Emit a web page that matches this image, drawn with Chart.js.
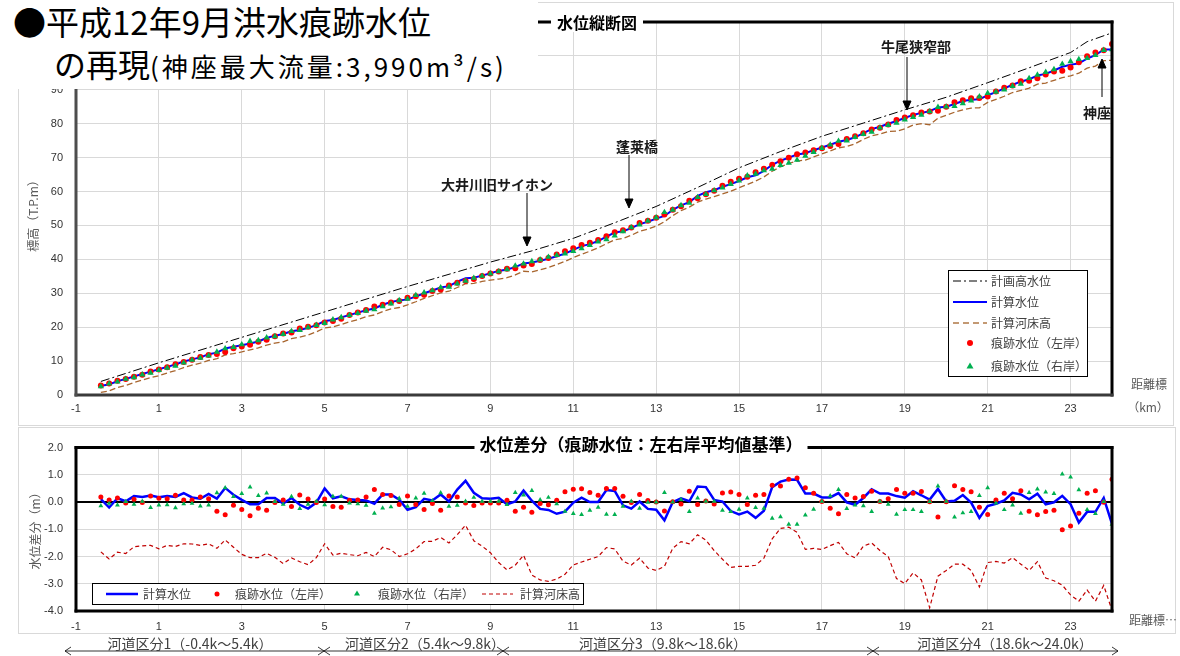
<!DOCTYPE html>
<html lang="ja"><head><meta charset="utf-8">
<title>平成12年9月洪水痕跡水位の再現</title>
<script src="https://cdn.jsdelivr.net/npm/chart.js@4.4.1/dist/chart.umd.min.js"></script>
<style>
html,body{margin:0;padding:0;background:#fff}
body{position:relative;width:1180px;height:656px;overflow:hidden;font-family:"Noto Sans CJK JP","Noto Sans",sans-serif;color:#000}
.frame{position:absolute;border:1px solid #d9d9d9;box-sizing:border-box}
canvas{position:absolute}
.tx{position:absolute;white-space:nowrap;line-height:1}
.c{transform:translate(-50%,-50%)}
.ann{font-weight:bold;font-size:14px;color:#1a1a1a}
.lg{font-size:12px;color:#404040;transform:translateY(-50%)}
.ax{font-size:12px;color:#595959}
.sec{font-size:14px;color:#404040}
svg{position:absolute;left:0;top:0}
</style></head><body>
<div class="frame" style="left:18px;top:2px;width:1156px;height:424px"></div>
<div class="frame" style="left:18px;top:427px;width:1158px;height:207px"></div>
<canvas id="cUp" width="1180" height="428" style="left:0;top:0"></canvas>
<canvas id="cLo" width="1180" height="228" style="left:0;top:428px"></canvas>
<div style="position:absolute;left:0;top:0;width:538px;height:89px;background:#fff"></div>
<svg width="1180" height="656">
  <g stroke="#000" stroke-width="1" fill="#000">
    <line x1="527" y1="193" x2="527" y2="238"/><polygon points="523,237 531,237 527,246"/>
    <line x1="629" y1="155" x2="629" y2="200"/><polygon points="625,199 633,199 629,208"/>
    <line x1="907" y1="57" x2="907" y2="102"/><polygon points="903,101 911,101 907,110"/>
    <line x1="1102" y1="97" x2="1102" y2="67"/><polygon points="1098,68 1106,68 1102,59"/>
  </g>
  <rect x="948.5" y="270.5" width="139" height="106" fill="#fff" stroke="#000" stroke-width="1"/>
  <line x1="953" y1="281" x2="987" y2="281" stroke="#000" stroke-width="1" stroke-dasharray="8,3,2,3"/>
  <line x1="953" y1="302" x2="987" y2="302" stroke="#0000ff" stroke-width="2"/>
  <line x1="953" y1="323" x2="987" y2="323" stroke="#b07845" stroke-width="1.5" stroke-dasharray="6,4"/>
  <circle cx="970" cy="343" r="3" fill="#ff0000"/>
  <polygon points="970,362.5 973.5,368.5 966.5,368.5" fill="#00b050"/>
  <rect x="92.5" y="583.5" width="491" height="21" fill="#fff" stroke="#000" stroke-width="1"/>
  <line x1="106" y1="594" x2="138" y2="594" stroke="#0000ff" stroke-width="2.5"/>
  <circle cx="217" cy="594" r="2.5" fill="#ff0000"/>
  <polygon points="357,590.5 360,595.5 354,595.5" fill="#00b050"/>
  <line x1="482" y1="594" x2="513" y2="594" stroke="#c00000" stroke-width="1.2" stroke-dasharray="4,3"/>
  <g stroke="#000" stroke-width="0.8" fill="none">
    <line x1="65" y1="651" x2="1118" y2="651"/>
    <path d="M71,647 L65,651 L71,655"/>
    <path d="M318,647 L324,651 L318,655 M330,647 L324,651 L330,655"/>
    <path d="M497,647 L503,651 L497,655 M509,647 L503,651 L509,655"/>
    <path d="M867,647 L873,651 L867,655 M879,647 L873,651 L879,655"/>
    <path d="M1112,647 L1118,651 L1112,655"/>
  </g>
</svg>
<div class="tx" style="left:13px;top:5px;font-size:33px">●平成12年9月洪水痕跡水位</div>
<div class="tx" style="left:54px;top:47px"><span style="font-size:32px">の再現</span><span style="font-size:26px;letter-spacing:3px">(神座最大流量:3,990m³/s)</span></div>
<div class="tx c" style="left:597px;top:22px;background:#fff;padding:2px 6px;font-weight:bold;font-size:16px">水位縦断図</div>
<div class="tx c" style="left:641px;top:443px;background:#fff;padding:2px 5px;font-weight:bold;font-size:17px">水位差分（痕跡水位：左右岸平均値基準）</div>
<div class="tx c ann" style="left:497px;top:184px">大井川旧サイホン</div>
<div class="tx c ann" style="left:637px;top:146px">蓬莱橋</div>
<div class="tx c ann" style="left:916px;top:46px">牛尾狭窄部</div>
<div class="tx c ann" style="left:1097px;top:112px">神座</div>
<div class="tx lg" style="left:991px;top:281px">計画高水位</div>
<div class="tx lg" style="left:991px;top:302px">計算水位</div>
<div class="tx lg" style="left:991px;top:323px">計算河床高</div>
<div class="tx lg" style="left:991px;top:343px">痕跡水位（左岸）</div>
<div class="tx lg" style="left:991px;top:366px">痕跡水位（右岸）</div>
<div class="tx lg" style="left:143px;top:594px">計算水位</div>
<div class="tx lg" style="left:235px;top:594px">痕跡水位（左岸）</div>
<div class="tx lg" style="left:378px;top:594px">痕跡水位（右岸）</div>
<div class="tx lg" style="left:520px;top:594px">計算河床高</div>
<div class="tx c ax" style="left:33px;top:213px;transform:translate(-50%,-50%) rotate(-90deg)">標高（T.P.m）</div>
<div class="tx c ax" style="left:35px;top:528px;transform:translate(-50%,-50%) rotate(-90deg)">水位差分（m）</div>
<div class="tx c ax" style="left:1149px;top:384px">距離標</div>
<div class="tx c ax" style="left:1148px;top:407px">（km）</div>
<div class="tx ax" style="left:1129px;top:614px">距離標…</div>
<div class="tx c sec" style="left:190px;top:643px">河道区分1（-0.4k～5.4k）</div>
<div class="tx c sec" style="left:425px;top:643px">河道区分2（5.4k～9.8k）</div>
<div class="tx c sec" style="left:663px;top:643px">河道区分3（9.8k～18.6k）</div>
<div class="tx c sec" style="left:1005px;top:643px">河道区分4（18.6k～24.0k）</div>
<script>
// ===== data =====
// distance marks (km)
const km = [-0.4,-0.2,0.0,0.2,0.4,0.6,0.8,1.0,1.2,1.4,1.6,1.8,2.0,2.2,2.4,2.6,2.8,3.0,3.2,3.4,3.6,3.8,4.0,4.2,4.4,4.6,4.8,5.0,5.2,5.4,5.6,5.8,6.0,6.2,6.4,6.6,6.8,7.0,7.2,7.4,7.6,7.8,8.0,8.2,8.4,8.6,8.8,9.0,9.2,9.4,9.6,9.8,10.0,10.2,10.4,10.6,10.8,11.0,11.2,11.4,11.6,11.8,12.0,12.2,12.4,12.6,12.8,13.0,13.2,13.4,13.6,13.8,14.0,14.2,14.4,14.6,14.8,15.0,15.2,15.4,15.6,15.8,16.0,16.2,16.4,16.6,16.8,17.0,17.2,17.4,17.6,17.8,18.0,18.2,18.4,18.6,18.8,19.0,19.2,19.4,19.6,19.8,20.0,20.2,20.4,20.6,20.8,21.0,21.2,21.4,21.6,21.8,22.0,22.2,22.4,22.6,22.8,23.0,23.2,23.4,23.6,23.8,24.0];

// upper chart: elevations (T.P.m)
const calcLevel = [2.7,3.1,4.1,4.7,5.5,6.2,6.9,7.6,8.3,9.0,
 9.9,10.5,11.1,12.0,12.5,13.7,14.2,14.7,15.2,15.8,
 16.8,17.5,18.0,18.8,19.2,19.8,20.6,21.8,22.1,22.9,
 23.6,24.3,25.0,25.5,26.6,27.4,27.9,28.2,29.0,30.0,
 30.8,31.7,32.1,33.4,34.4,34.6,35.2,35.9,36.6,37.0,
 37.7,38.8,39.1,39.6,40.2,40.9,41.7,42.8,43.9,44.5,
 45.4,46.7,47.9,48.3,49.2,50.4,51.1,52.0,52.8,54.6,
 55.9,56.9,58.7,59.8,60.4,61.4,62.2,63.1,64.2,64.8,
 66.1,67.9,69.1,70.0,70.9,71.3,72.2,73.0,73.8,74.7,
 75.2,76.0,77.2,78.4,79.1,80.0,80.8,81.7,82.6,83.2,
 83.7,84.8,85.0,85.8,86.7,87.1,87.2,88.4,89.3,90.4,
 91.5,92.4,93.1,94.2,94.7,95.7,96.8,97.4,97.8,99.2,
 100.2,101.9,101.9];
const traceLeftLevel = [2.8,3.4,4.2,4.7,5.4,6.0,6.9,7.5,8.2,9.1,
 9.7,10.4,11.2,11.8,12.1,12.7,13.8,14.3,14.8,15.7,
 16.3,17.3,18.1,18.4,19.6,20.1,20.6,21.4,21.8,22.5,
 23.6,24.3,25.1,26.1,26.6,27.3,27.7,28.7,29.1,29.6,
 30.7,31.1,32.3,33.1,33.6,34.2,35.1,35.8,36.4,37.2,
 37.4,38.2,38.6,39.8,40.4,41.4,42.4,43.3,44.2,44.9,
 45.7,46.8,48.0,48.6,49.4,50.7,51.4,52.3,53.2,54.6,
 55.7,57.3,58.0,59.2,60.2,61.7,62.9,63.8,64.4,65.7,
 66.7,67.9,68.9,70.0,71.0,71.5,72.2,72.8,73.4,74.0,
 75.5,76.3,77.2,78.3,78.8,79.8,81.1,81.8,82.5,83.3,
 83.6,83.8,85.0,86.3,86.9,87.5,87.6,88.0,89.5,90.6,
 91.3,92.5,92.7,93.4,94.5,95.4,95.6,96.6,98.1,99.9,
 101.0,101.7,103.5];
const traceRightLevel = [2.5,3.3,3.9,4.7,5.2,6.0,6.5,7.3,8.0,8.6,
 9.5,10.3,10.9,11.6,12.7,13.7,14.1,14.9,15.9,16.1,
 16.9,17.3,17.9,18.8,19.1,19.9,20.6,21.2,22.2,22.9,
 23.5,24.1,24.8,25.2,26.1,26.9,27.9,28.3,29.4,30.2,
 30.8,31.7,31.9,32.8,33.6,34.5,35.1,35.8,36.4,37.0,
 38.1,38.7,39.4,39.9,40.7,41.2,41.7,42.4,43.2,44.2,
 45.2,45.9,47.0,48.2,49.4,50.2,51.3,52.3,53.9,54.6,
 55.9,56.6,58.3,59.2,60.3,61.1,62.2,63.2,64.7,65.2,
 66.2,66.7,67.8,68.4,69.3,70.5,71.6,72.8,73.8,74.9,
 75.0,76.0,76.9,77.6,78.8,79.6,80.2,81.2,81.9,82.6,
 83.6,84.9,85.0,85.2,86.0,86.8,88.0,89.0,89.4,90.0,
 91.1,91.7,93.4,94.4,95.2,96.0,97.6,98.4,99.0,99.3,
 100.2,101.7,101.9];
const bedLevel = [0.8,1.2,2.2,2.8,3.7,4.4,5.1,5.7,6.5,7.2,
 8.1,8.8,9.4,10.2,10.7,11.8,12.2,12.7,13.3,13.9,
 14.7,15.3,15.7,16.6,17.1,17.7,18.6,19.8,20.1,20.8,
 21.6,22.2,23.1,23.6,24.6,25.4,25.8,26.6,27.5,28.5,
 29.3,30.1,30.6,31.7,32.8,32.9,33.5,33.9,34.2,34.6,
 35.4,36.5,36.3,36.9,37.6,38.5,39.4,40.5,41.5,42.4,
 43.4,44.6,45.8,46.2,47.1,48.3,48.9,49.8,51.1,52.9,
 54.4,55.4,56.9,57.8,58.5,59.3,60.1,61.1,62.1,63.1,
 64.3,66.0,67.3,68.3,69.0,69.3,70.2,71.1,72.0,72.9,
 73.3,74.1,75.4,76.4,77.0,77.7,77.8,78.5,79.6,80.0,
 79.7,81.6,82.5,83.4,84.1,84.6,84.7,86.3,87.2,88.1,
 89.2,89.8,90.5,91.7,92.0,92.8,93.6,94.1,94.9,96.4,
 97.0,98.6,98.7];
const hwlKm = [-0.4,1,3,5,7,9,10,11,12,13,14,15,16,17,18,19,20,21,22,23,23.4,24];
const hwlLevel = [4.0,9.5,17.0,24.5,32.0,39.2,42.5,46.2,50.8,55.6,61.2,67.0,71.8,76.3,80.2,84.1,87.8,92.1,96.5,101.0,104.2,106.8];

// lower chart: differences from the left/right trace average (m)
const diffCalc = [0.11,-0.20,0.14,0.03,0.22,0.19,0.24,0.18,0.22,0.19,
 0.33,0.17,0.12,0.30,0.13,0.52,0.27,0.08,-0.08,-0.08,
 0.15,0.15,-0.05,0.15,-0.10,-0.24,-0.02,0.50,0.14,0.21,
 0.10,0.08,0.06,-0.06,0.28,0.28,0.09,-0.28,-0.19,0.12,
 0.06,0.28,0.02,0.46,0.78,0.34,0.14,0.12,0.16,-0.08,
 0.02,0.42,0.05,-0.25,-0.29,-0.43,-0.35,-0.02,0.16,0.00,
 0.00,0.44,0.41,-0.12,-0.24,0.02,-0.25,-0.28,-0.67,0.00,
 0.14,0.03,0.57,0.55,0.08,0.02,-0.33,-0.45,-0.35,-0.58,
 -0.32,0.55,0.75,0.83,0.82,0.31,0.31,0.17,0.17,0.33,
 -0.01,-0.10,0.15,0.47,0.31,0.31,0.22,0.16,0.40,0.25,
 0.09,0.48,0.02,0.05,0.26,-0.02,-0.58,-0.15,-0.06,0.06,
 0.34,0.28,0.10,0.31,-0.08,-0.01,0.23,-0.08,-0.75,-0.36,
 -0.36,0.15,-0.80];
const diffLeft = [0.19,0.08,0.15,-0.03,0.10,-0.02,0.22,0.14,0.12,0.25,
 0.08,0.08,0.19,0.12,-0.34,-0.47,-0.12,-0.27,-0.50,-0.23,
 -0.30,-0.02,0.08,-0.16,0.26,0.11,-0.02,0.11,-0.16,-0.19,
 0.07,0.08,0.19,0.46,0.28,0.24,-0.09,0.22,-0.09,-0.27,
 -0.05,-0.30,0.22,0.19,-0.03,-0.13,-0.03,-0.03,-0.03,0.07,
 -0.34,-0.19,-0.37,-0.05,-0.10,0.07,0.38,0.47,0.49,0.35,
 0.25,0.50,0.50,0.21,-0.02,0.28,0.06,0.00,-0.33,0.01,
 -0.07,0.40,-0.09,0.04,-0.07,0.33,0.37,0.28,-0.09,0.25,
 0.28,0.62,0.59,0.84,0.88,0.53,0.32,0.02,-0.23,-0.43,
 0.28,0.15,0.20,0.40,0.02,0.12,0.46,0.32,0.32,0.39,
 0.01,-0.55,0.01,0.60,0.46,0.38,-0.19,-0.46,0.08,0.32,
 0.12,0.42,-0.34,-0.47,-0.35,-0.30,-1.02,-0.88,-0.41,0.32,
 0.42,-0.01,0.84];
const diffRight = [-0.14,-0.05,-0.11,0.02,-0.08,0.03,-0.20,-0.11,-0.10,-0.21,
 -0.07,-0.05,-0.15,-0.11,0.34,0.52,0.20,0.31,0.55,0.24,
 0.33,0.02,-0.08,0.20,-0.24,-0.08,0.03,-0.10,0.21,0.21,
 -0.04,-0.07,-0.12,-0.41,-0.22,-0.18,0.14,-0.16,0.15,0.32,
 0.05,0.34,-0.16,-0.12,0.03,0.17,0.03,0.03,0.03,-0.09,
 0.35,0.26,0.42,0.08,0.17,-0.07,-0.34,-0.42,-0.46,-0.30,
 -0.19,-0.45,-0.46,-0.16,0.03,-0.23,-0.01,0.00,0.35,0.00,
 0.09,-0.35,0.15,0.03,0.03,-0.30,-0.35,-0.27,0.15,-0.20,
 -0.23,-0.60,-0.54,-0.82,-0.82,-0.48,-0.27,0.03,0.23,0.46,
 -0.24,-0.11,-0.14,-0.35,0.03,-0.08,-0.45,-0.28,-0.28,-0.35,
 0.02,0.59,0.03,-0.55,-0.40,-0.35,0.24,0.52,-0.04,-0.28,
 -0.11,-0.41,0.35,0.48,0.37,0.31,1.03,0.92,0.45,-0.28,
 -0.42,0.02,-0.82];
const diffBed = [-1.83,-2.09,-1.84,-1.89,-1.64,-1.61,-1.59,-1.72,-1.59,-1.63,
 -1.53,-1.54,-1.59,-1.53,-1.70,-1.39,-1.66,-1.92,-2.04,-2.04,
 -1.88,-2.03,-2.26,-2.05,-2.19,-2.30,-2.04,-1.53,-1.95,-1.88,
 -1.93,-1.97,-1.85,-2.00,-1.66,-1.75,-2.00,-1.90,-1.72,-1.45,
 -1.44,-1.30,-1.50,-1.20,-0.85,-1.42,-1.62,-1.86,-2.22,-2.49,
 -2.32,-1.95,-2.68,-2.86,-2.91,-2.83,-2.65,-2.31,-2.20,-2.10,
 -2.00,-1.67,-1.72,-2.17,-2.31,-2.06,-2.42,-2.51,-2.36,-1.70,
 -1.45,-1.53,-1.20,-1.40,-1.78,-2.10,-2.40,-2.36,-2.36,-2.32,
 -2.06,-1.35,-0.97,-0.92,-1.11,-1.74,-1.70,-1.74,-1.60,-1.48,
 -1.90,-2.05,-1.62,-1.50,-1.78,-2.00,-2.81,-2.99,-2.60,-2.86,
 -3.88,-2.72,-2.51,-2.28,-2.28,-2.51,-3.12,-2.22,-2.18,-2.24,
 -2.04,-2.28,-2.51,-2.19,-2.79,-2.89,-3.05,-3.41,-3.64,-3.23,
 -3.64,-3.06,-3.98];

// tick labels
const xTickValues = [-1,1,3,5,7,9,11,13,15,17,19,21,23];
const yTicksUpper = [0,10,20,30,40,50,60,70,80,90,100,110];
const yTicksLower = [-4,-3,-2,-1,0,1,2];

// ===== chart building =====
const pts = (xs, ys) => xs.map((x, i) => ({x: x, y: ys[i]}));

const framePlugin = {
  id: 'frame',
  afterDatasetsDraw(chart, args, o) {
    const a = chart.chartArea, ctx = chart.ctx;
    ctx.save();
    ctx.lineWidth = 3; ctx.lineCap = 'square';
    const seg = (c, x1, y1, x2, y2) => { ctx.strokeStyle = c; ctx.beginPath(); ctx.moveTo(x1, y1); ctx.lineTo(x2, y2); ctx.stroke(); };
    seg(o.top, a.left, a.top, a.right, a.top);
    seg(o.right, a.right, a.top, a.right, a.bottom);
    seg(o.bottom, a.left, a.bottom, a.right, a.bottom);
    seg(o.left, a.left, a.top, a.left, a.bottom);
    ctx.restore();
  }
};
const tickFont = {family: '"Liberation Sans","Noto Sans",sans-serif', size: 11};
function xScale(h, pad) {
  return {type: 'linear', min: -1, max: 24,
    afterFit: s => { s.height = h; },
    afterBuildTicks: s => { s.ticks = xTickValues.map(v => ({value: v})); },
    grid: {color: '#d9d9d9', lineWidth: 1, drawTicks: false},
    border: {display: false},
    ticks: {padding: pad, font: tickFont, color: '#333', maxRotation: 0, autoSkip: false}};
}
const common = {responsive: false, animation: false, events: [],
  plugins: {legend: {display: false}, tooltip: {enabled: false}}};

new Chart(document.getElementById('cUp'), {
  type: 'line',
  data: {datasets: [
    {label: '痕跡水位（右岸）', data: pts(km, traceRightLevel), showLine: false, pointStyle: 'triangle', pointRadius: 3.6, pointBackgroundColor: '#00b050', pointBorderWidth: 0, order: 0},
    {label: '痕跡水位（左岸）', data: pts(km, traceLeftLevel), showLine: false, pointStyle: 'circle', pointRadius: 3, pointBackgroundColor: '#ff0000', pointBorderWidth: 0, order: 1},
    {label: '計算水位', data: pts(km, calcLevel), borderColor: '#0000ff', borderWidth: 2, pointRadius: 0, tension: 0, order: 2},
    {label: '計画高水位', data: pts(hwlKm, hwlLevel), borderColor: '#000', borderWidth: 1, borderDash: [9,3,2,3], pointRadius: 0, order: 3},
    {label: '計算河床高', data: pts(km, bedLevel), borderColor: '#a8652e', borderWidth: 1.3, borderDash: [6,3], pointRadius: 0, order: 4}
  ]},
  options: Object.assign({}, common, {
    layout: {padding: {left: 0, top: 22, right: 68, bottom: 0}},
    plugins: Object.assign({}, common.plugins, {frame: {top: '#000', right: '#000', bottom: '#3a3a3a', left: '#4d4d4d'}}),
    scales: {
      x: xScale(33, 7),
      y: {min: 0, max: 110,
        afterFit: s => { s.width = 76; },
        afterBuildTicks: s => { s.ticks = yTicksUpper.map(v => ({value: v})); },
        grid: {color: '#d9d9d9', lineWidth: 1, drawTicks: false}, border: {display: false},
        ticks: {padding: 13, font: tickFont, color: '#333'}}
    }
  }),
  plugins: [framePlugin]
});

new Chart(document.getElementById('cLo'), {
  type: 'line',
  data: {datasets: [
    {label: '計算水位', data: pts(km, diffCalc), borderColor: '#0000ff', borderWidth: 2.5, pointRadius: 0, order: 3},
    {label: '痕跡水位（左岸）', data: pts(km, diffLeft), showLine: false, pointStyle: 'circle', pointRadius: 2.5, pointBackgroundColor: '#ff0000', pointBorderWidth: 0, order: 2},
    {label: '痕跡水位（右岸）', data: pts(km, diffRight), showLine: false, pointStyle: 'triangle', pointRadius: 2.8, pointBackgroundColor: '#00b050', pointBorderWidth: 0, order: 1},
    {label: '計算河床高', data: pts(km, diffBed), borderColor: '#c00000', borderWidth: 1.2, borderDash: [4,3], pointRadius: 0, order: 4}
  ]},
  options: Object.assign({}, common, {
    layout: {padding: {left: 0, top: 13, right: 68, bottom: 0}},
    plugins: Object.assign({}, common.plugins, {frame: {top: '#000', right: '#000', bottom: '#000', left: '#000'}}),
    scales: {
      x: xScale(45, 9),
      y: {min: -4, max: 2,
        afterFit: s => { s.width = 76; },
        afterBuildTicks: s => { s.ticks = yTicksLower.map(v => ({value: v})); },
        grid: {color: c => (c.tick && c.tick.value === 0) ? '#000' : '#d9d9d9', lineWidth: c => (c.tick && c.tick.value === 0) ? 2 : 1, drawTicks: false},
        border: {display: false},
        ticks: {padding: 13, font: tickFont, color: '#333', callback: v => Number(v).toFixed(1)}}
    }
  }),
  plugins: [framePlugin]
});
</script>
</body></html>
